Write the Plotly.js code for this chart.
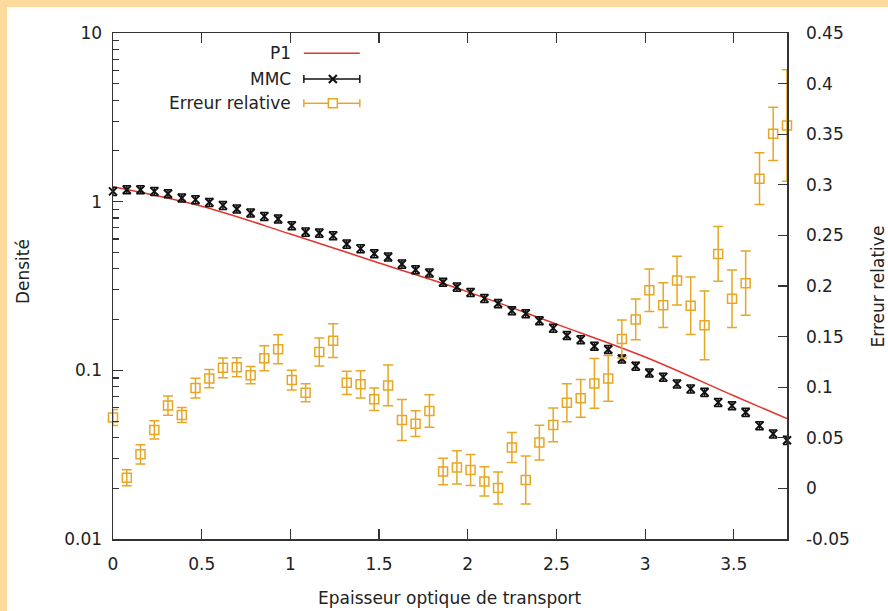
<!DOCTYPE html>
<html>
<head>
<meta charset="utf-8">
<script src="https://cdn.plot.ly/plotly-3.0.1.min.js"></script>
<style>
html,body{margin:0;padding:0;background:#FEDB9C;width:888px;height:611px;overflow:hidden}
#chart{position:absolute;left:7px;top:7px;width:881px;height:604px;background:#fff}
</style>
</head>
<body>
<div id="chart"></div>
<script>
// Optical transport thickness positions
const tau = [0.000, 0.078, 0.155, 0.233, 0.310, 0.388, 0.465, 0.543, 0.620, 0.698,
             0.776, 0.853, 0.931, 1.008, 1.086, 1.163, 1.241, 1.318, 1.396, 1.473,
             1.551, 1.629, 1.706, 1.784, 1.861, 1.939, 2.016, 2.094, 2.171, 2.249,
             2.327, 2.404, 2.482, 2.559, 2.637, 2.714, 2.792, 2.869, 2.947, 3.024,
             3.102, 3.180, 3.257, 3.335, 3.412, 3.490, 3.567, 3.645, 3.722, 3.800];

// MMC density (left log axis)
const mmc = [1.151, 1.178, 1.178, 1.151, 1.115, 1.052, 1.028, 0.991, 0.951, 0.905,
             0.857, 0.818, 0.790, 0.721, 0.661, 0.652, 0.629, 0.561, 0.527, 0.492,
             0.470, 0.427, 0.395, 0.378, 0.333, 0.312, 0.290, 0.267, 0.249, 0.226,
             0.217, 0.197, 0.178, 0.161, 0.152, 0.139, 0.133, 0.117, 0.106, 0.0965,
             0.0911, 0.0831, 0.0776, 0.0741, 0.0646, 0.0618, 0.0564, 0.0470, 0.0420, 0.0385];

// P1 model curve
const p1X = [0, 0.5, 1.0, 1.5, 2.0, 2.5, 3.0, 3.5, 3.8];
const p1Y = [1.227, 0.940, 0.643, 0.433, 0.292, 0.188, 0.120, 0.0707, 0.0517];

// Relative error (right axis) and its uncertainty
const errRel = [0.070, 0.0105, 0.0337, 0.0578, 0.0819, 0.0725, 0.0991, 0.1085, 0.1191, 0.1198,
                0.1119, 0.1286, 0.1375, 0.1070, 0.0945, 0.1348, 0.1460, 0.1043, 0.1028, 0.0880,
                0.1018, 0.0676, 0.0640, 0.0765, 0.0167, 0.0207, 0.0181, 0.0069, 0.0004, 0.0404,
                0.0083, 0.0453, 0.0627, 0.0846, 0.0890, 0.1037, 0.1087, 0.1476, 0.1670, 0.1959,
                0.1810, 0.2054, 0.1805, 0.1611, 0.2317, 0.1874, 0.2028, 0.3061, 0.3504, 0.3587];
const errBar = [0.0079, 0.0080, 0.0095, 0.0090, 0.0095, 0.0075, 0.0098, 0.0090, 0.0098, 0.0094,
                0.0085, 0.0123, 0.0143, 0.0098, 0.0089, 0.0138, 0.0167, 0.0115, 0.0135, 0.0111,
                0.0202, 0.0202, 0.0128, 0.0160, 0.0131, 0.0164, 0.0153, 0.0145, 0.0157, 0.0148,
                0.0236, 0.0172, 0.0167, 0.0187, 0.0187, 0.0246, 0.0226, 0.0187, 0.0202, 0.0210,
                0.0221, 0.0241, 0.0285, 0.0340, 0.0271, 0.0285, 0.0318, 0.0256, 0.0263, 0.0551];

// Tick labels
const xTicks = [0, 0.5, 1, 1.5, 2, 2.5, 3, 3.5];
const yTickVals = [0.01, 0.1, 1, 10];
const yTickText = ['0.01', '0.1', '1', '10'];
const yMinorVals = [0.02,0.03,0.04,0.05,0.06,0.07,0.08,0.09,0.2,0.3,0.4,0.5,0.6,0.7,0.8,0.9,2,3,4,5,6,7,8,9];
const y2TickVals = [-0.05, 0, 0.05, 0.1, 0.15, 0.2, 0.25, 0.3, 0.35, 0.4, 0.45];
const y2TickText = ['-0.05', '0', '0.05', '0.1', '0.15', '0.2', '0.25', '0.3', '0.35', '0.4', '0.45'];

const RED = '#E0342C';
const BLK = '#111111';
const ORG = '#E6A726';
const AX = '#333333';
const FONT = 'DejaVu Sans, sans-serif';

const traces = [
  {x: p1X, y: p1Y, mode: 'lines', name: 'P1', line: {color: RED, width: 1.5, shape: 'spline'}, xaxis: 'x', yaxis: 'y'},
  {x: tau, y: mmc, mode: 'markers', name: 'MMC', xaxis: 'x', yaxis: 'y', cliponaxis: false,
   marker: {symbol: 'x-thin-open', size: 8, color: BLK, line: {width: 2, color: BLK}},
   error_y: {type: 'percent', value: 5.5, color: BLK, thickness: 1.5, width: 4}},
  {x: tau, y: errRel, mode: 'markers', name: 'Erreur relative', xaxis: 'x', yaxis: 'y2', cliponaxis: false,
   marker: {symbol: 'square-open', size: 9, color: ORG, line: {width: 1.5, color: ORG}},
   error_y: {type: 'data', array: errBar, color: ORG, thickness: 1.5, width: 5}}
];

// pixel -> paper helpers (plot area: x 113..787.5, y 33..539 in page px)
const PX = X => (X - 113) / 674.5;
const PY = Y => (539 - Y) / 506;

const shapes = [];
const annotations = [];
function hline(x0, x1, y, color) {
  shapes.push({type: 'line', xref: 'paper', yref: 'paper', x0: PX(x0), x1: PX(x1), y0: PY(y), y1: PY(y), line: {color: color, width: 1.5}});
}
function vline(x, y0, y1, color) {
  shapes.push({type: 'line', xref: 'paper', yref: 'paper', x0: PX(x), x1: PX(x), y0: PY(y0), y1: PY(y1), line: {color: color, width: 1.5}});
}
// Legend (gnuplot style: text then sample)
const legY = [53.3, 79, 103.3];
const legText = ['P1', 'MMC', 'Erreur relative'];
legText.forEach((t, i) => {
  annotations.push({text: t, xref: 'paper', yref: 'paper', x: PX(293), y: PY(legY[i]), xanchor: 'right', yanchor: 'middle', showarrow: false, font: {family: FONT, size: 17, color: '#222'}});
});
hline(304, 360, legY[0], RED);
hline(304, 360, legY[1], BLK); vline(304, legY[1]-4, legY[1]+4, BLK); vline(360, legY[1]-4, legY[1]+4, BLK);
shapes.push({type: 'line', xref: 'paper', yref: 'paper', x0: PX(329), x1: PX(337), y0: PY(legY[1]-4), y1: PY(legY[1]+4), line: {color: BLK, width: 2}});
shapes.push({type: 'line', xref: 'paper', yref: 'paper', x0: PX(329), x1: PX(337), y0: PY(legY[1]+4), y1: PY(legY[1]-4), line: {color: BLK, width: 2}});
hline(304, 328.5, legY[2], ORG); hline(337.5, 360, legY[2], ORG);
vline(304, legY[2]-4, legY[2]+4, ORG); vline(360, legY[2]-4, legY[2]+4, ORG);
shapes.push({type: 'rect', xref: 'paper', yref: 'paper', x0: PX(328.5), x1: PX(337.5), y0: PY(legY[2]+4.5), y1: PY(legY[2]-4.5), line: {color: ORG, width: 1.5}, fillcolor: 'rgba(0,0,0,0)'});

// Axis titles
annotations.push({text: 'Epaisseur optique de transport', xref: 'paper', yref: 'paper', x: 0.5, y: PY(598), xanchor: 'center', yanchor: 'middle', showarrow: false, font: {family: FONT, size: 17, color: '#222'}});
annotations.push({text: 'Densité', xref: 'paper', yref: 'paper', x: PX(23), y: PY(272), xanchor: 'center', yanchor: 'middle', textangle: -90, showarrow: false, font: {family: FONT, size: 17, color: '#222'}});
annotations.push({text: 'Erreur relative', xref: 'paper', yref: 'paper', x: PX(879), y: PY(286), xanchor: 'center', yanchor: 'middle', textangle: -90, showarrow: false, font: {family: FONT, size: 17, color: '#222'}});

const layout = {
  width: 881, height: 604,
  margin: {l: 106, r: 100.5, t: 26, b: 72, pad: 0},
  paper_bgcolor: '#ffffff', plot_bgcolor: '#ffffff',
  showlegend: false,
  font: {family: FONT, size: 17, color: '#222'},
  xaxis: {range: [0, 3.8], tickvals: xTicks, ticks: 'inside', ticklen: 10, tickwidth: 1.2, tickcolor: AX,
          mirror: 'ticks', showline: true, linecolor: AX, linewidth: 1.5, showgrid: false, zeroline: false,
          ticklabelstandoff: 9, tickfont: {family: FONT, size: 17, color: '#222'}},
  yaxis: {type: 'log', range: [-2, 1], tickvals: yTickVals, ticktext: yTickText, ticks: 'inside', ticklen: 10, tickwidth: 1.2, tickcolor: AX,
          showline: true, linecolor: AX, linewidth: 1.5, showgrid: false, zeroline: false,
          ticklabelstandoff: 6, tickfont: {family: FONT, size: 17, color: '#222'},
          minor: {tickvals: yMinorVals, ticks: 'inside', ticklen: 6, tickwidth: 1.2, tickcolor: AX, showgrid: false}},
  yaxis2: {overlaying: 'y', side: 'right', range: [-0.05, 0.45], tickvals: y2TickVals, ticktext: y2TickText,
           ticks: 'inside', ticklen: 9, tickwidth: 1.2, tickcolor: AX, showline: true, linecolor: AX, linewidth: 1.5,
           showgrid: false, zeroline: false, ticklabelstandoff: 14, tickfont: {family: FONT, size: 17, color: '#222'}},
  shapes: shapes,
  annotations: annotations
};

Plotly.newPlot('chart', traces, layout, {staticPlot: true, displayModeBar: false});
</script>
</body>
</html>
